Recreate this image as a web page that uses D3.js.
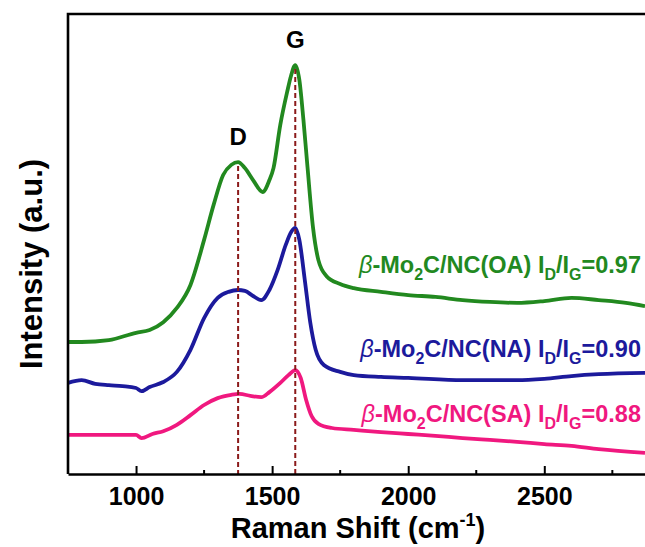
<!DOCTYPE html>
<html>
<head>
<meta charset="utf-8">
<script src="https://cdn.jsdelivr.net/npm/d3@7"></script>
<style>
body{margin:0;background:#fff;}
svg{display:block;font-family:Arial,"Liberation Sans",sans-serif;font-weight:bold;}
</style>
</head>
<body>
<div id="chart"></div>
<script>
// Raman spectra (shift in cm-1, intensity in a.u. with offsets)
var shift_oa = [750,800,900,1000,1050,1100,1150,1200,1250,1285,1320,1350,1375,1400,1430,1465,1490,1505,1530,1555,1570,1585,1600,1615,1630,1650,1670,1700,1750,1800,1900,2000,2100,2200,2300,2400,2500,2600,2700,2800,2870];
var int_oa   = [28.7,28.7,29.1,30.7,31.3,33.0,36.1,41.1,50.9,58.5,65.0,67.2,67.8,66.5,63.9,61.3,63.9,66.5,75.9,83.0,86.7,88.9,85.7,77.0,66.7,53.7,46.5,43.0,41.3,40.4,39.6,38.9,38.5,37.8,37.4,37.2,37.6,38.3,37.8,37.2,36.5];

var shift_na = [750,800,850,900,950,1000,1020,1050,1100,1150,1200,1250,1300,1340,1375,1400,1430,1460,1490,1520,1550,1570,1585,1600,1620,1640,1660,1690,1750,1800,1900,2000,2200,2400,2500,2600,2700,2870];
var int_na   = [19.8,20.4,19.6,19.3,19.1,18.7,18.0,18.9,20.0,22.2,27.0,33.9,38.3,39.6,40.0,39.8,38.7,37.8,40.0,44.3,49.8,52.6,53.5,50.9,42.2,33.0,27.0,23.7,22.2,21.5,21.1,20.9,20.4,20.4,20.7,21.3,21.7,22.0];

var shift_sa = [750,850,950,1000,1020,1060,1100,1150,1200,1250,1300,1350,1380,1420,1460,1490,1530,1560,1585,1605,1625,1645,1670,1720,1800,1900,2000,2100,2200,2300,2400,2500,2600,2700,2870];
var int_sa   = [8.5,8.5,8.5,8.5,7.8,8.7,9.3,10.7,12.8,15.0,16.5,17.2,17.4,17.0,16.7,17.8,19.8,21.5,22.6,20.9,16.1,12.6,10.9,10.0,9.6,9.1,8.7,8.3,7.8,7.4,7.0,6.5,6.1,5.4,4.6];

var series_names  = ['OA','NA','SA'];
var series_ratios = ['0.97','0.90','0.88'];
var peak_names = ['D','G'];
var peak_shift = [1375,1585];
var major_ticks = [1000,1500,2000,2500];
var minor_ticks = [1250,1750,2250,2750];

var chart_width = 645;
var chart_height = 547;
var colors = ['#22891f','#1c1a9c','#f0187f'];

var svg = d3.select('#chart')
    .append('svg')
    .attr('width',chart_width)
    .attr('height',chart_height);

var x = d3.scaleLinear().domain([750,2870]).range([68,645]);
var y = d3.scaleLinear().domain([0,100]).range([474,14]);

var series = [
    {shift:shift_oa, val:int_oa},
    {shift:shift_na, val:int_na},
    {shift:shift_sa, val:int_sa}
];

var line = d3.line()
    .x(function(d){ return x(d[0]); })
    .y(function(d){ return y(d[1]); })
    .curve(d3.curveMonotoneX);

svg.selectAll('path.spec')
    .data(series)
    .enter()
    .append('path')
    .attr('class','spec')
    .attr('d',function(s){
        return line(s.shift.map(function(v,i){ return [v,s.val[i]]; }));
    })
    .attr('fill','none')
    .attr('stroke',function(d,i){ return colors[i]; })
    .attr('stroke-width',3.8)
    .attr('stroke-linejoin','round');

// dashed peak markers, from the OA peak down to the axis
svg.selectAll('line.peak')
    .data(peak_shift)
    .enter()
    .append('line')
    .attr('class','peak')
    .attr('x1',function(d){ return x(d); })
    .attr('x2',function(d){ return x(d); })
    .attr('y1',function(d){
        var i = d3.bisectLeft(shift_oa,d);
        return y(int_oa[i]) + 4;
    })
    .attr('y2',y(0))
    .attr('stroke','#8b1a1a')
    .attr('stroke-width',2)
    .attr('stroke-dasharray','5,3');

// peak labels
svg.selectAll('text.peakname')
    .data(peak_names)
    .enter()
    .append('text')
    .attr('class','peakname')
    .text(function(d){ return d; })
    .attr('x',function(d,i){ return x(peak_shift[i]); })
    .attr('y',function(d,i){
        var j = d3.bisectLeft(shift_oa,peak_shift[i]);
        return y(int_oa[j]) - 17;
    })
    .attr('text-anchor','middle')
    .attr('font-size',24);

// axis frame: left, top, bottom
svg.append('path')
    .attr('d','M'+x(750)+','+y(0)+'V'+y(100)+'H'+chart_width)
    .attr('fill','none')
    .attr('stroke','#000')
    .attr('stroke-width',2.6);

var xAxis = d3.axisBottom(x)
    .tickValues(major_ticks)
    .tickSizeInner(-8)
    .tickSizeOuter(0)
    .tickPadding(13)
    .tickFormat(d3.format('d'));

var gx = svg.append('g')
    .attr('transform','translate(0,'+y(0)+')')
    .call(xAxis);
gx.select('.domain').attr('stroke','#000').attr('stroke-width',2.6);
gx.selectAll('.tick line').attr('stroke','#000').attr('stroke-width',2);
gx.selectAll('.tick text')
    .attr('fill','#000')
    .attr('font-size',25)
    .attr('font-family','Arial,"Liberation Sans",sans-serif')
    .attr('font-weight','bold');

gx.selectAll('line.minor')
    .data(minor_ticks)
    .enter()
    .append('line')
    .attr('class','minor')
    .attr('x1',function(d){ return x(d); })
    .attr('x2',function(d){ return x(d); })
    .attr('y1',0)
    .attr('y2',-4)
    .attr('stroke','#000')
    .attr('stroke-width',2);

// axis titles
var xt = svg.append('text')
    .attr('x',358)
    .attr('y',538)
    .attr('text-anchor','middle')
    .attr('font-size',29);
xt.append('tspan').text('Raman Shift (cm');
xt.append('tspan').text('-1').attr('font-size',18).attr('dy',-12);
xt.append('tspan').text(')').attr('dy',12);

svg.append('text')
    .attr('transform','translate(42,264) rotate(-90)')
    .attr('text-anchor','middle')
    .attr('font-size',31)
    .text('Intensity (a.u.)');

// sample labels
var label_y = [273,357,422];
series_names.forEach(function(name,i){
    var t = svg.append('text')
        .attr('x',641)
        .attr('y',label_y[i])
        .attr('text-anchor','end')
        .attr('font-size',23.5)
        .attr('fill',colors[i]);
    t.append('tspan').text('\u03b2').attr('font-style','italic').attr('font-weight','normal');
    t.append('tspan').text('-Mo');
    t.append('tspan').text('2').attr('font-size',16).attr('dy',7);
    t.append('tspan').text('C/NC('+name+') I').attr('dy',-7);
    t.append('tspan').text('D').attr('font-size',16).attr('dy',7);
    t.append('tspan').text('/I').attr('dy',-7);
    t.append('tspan').text('G').attr('font-size',16).attr('dy',7);
    t.append('tspan').text('='+series_ratios[i]).attr('dy',-7);
});
</script>
</body>
</html>
